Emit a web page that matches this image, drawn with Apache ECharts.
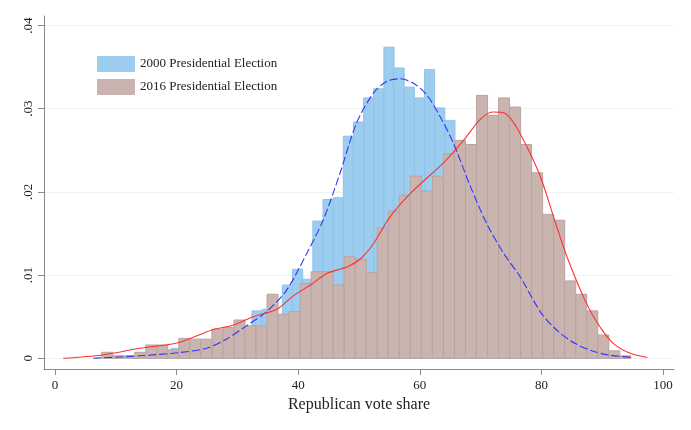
<!DOCTYPE html>
<html>
<head>
<meta charset="utf-8">
<script src="https://cdn.jsdelivr.net/npm/echarts@6/dist/echarts.min.js"></script>
<style>html,body{margin:0;padding:0;background:#fff}#c{width:691px;height:430px}</style>
</head>
<body>
<div id="c"></div>
<script>
// ---- data ----
const seriesNames = ['2000 Presidential Election', '2016 Presidential Election'];

// 2000 histogram (density), 48 bins
const bins2000Start = 12.37;
const bins2000Width = 1.669;
const density2000 = [
  0.0002, 0.0004, 0.0005, 0.0007, 0.0012, 0.0009, 0.0010, 0.0011, 0.0013, 0.0018,
  0.0027, 0.0036, 0.0057, 0.0059, 0.0050, 0.0088, 0.0107, 0.0095, 0.0165, 0.0191,
  0.0193, 0.0267, 0.0284, 0.0313, 0.0324, 0.0374, 0.0349, 0.0326, 0.0313, 0.0347,
  0.0301, 0.0286, 0.0240, 0.0210, 0.0180, 0.0155, 0.0130, 0.0110, 0.0095, 0.0080,
  0.0065, 0.0050, 0.0038, 0.0028, 0.0020, 0.0013, 0.0007, 0.0003
];

// 2016 histogram (density), 48 bins
const bins2016Start = 7.68;
const bins2016Width = 1.813;
const density2016 = [
  0.00072, 0.0003, 0.0003, 0.00072, 0.0016, 0.0016, 0.0010, 0.0024, 0.0023, 0.0023,
  0.0035, 0.0037, 0.0046, 0.0039, 0.0039, 0.0077, 0.0053, 0.0056, 0.0090, 0.0104,
  0.0104, 0.0088, 0.0122, 0.0119, 0.0103, 0.0157, 0.0177, 0.0196, 0.0219, 0.0201,
  0.0219, 0.0246, 0.0262, 0.0257, 0.0316, 0.0292, 0.0313, 0.0302, 0.0257, 0.0223,
  0.0173, 0.0166, 0.0093, 0.0077, 0.0057, 0.0028, 0.0009, 0.0003
];

// kernel density curves
const kde2000X = [6.3, 14, 20.6, 24.9, 28.2, 31.5, 34.8, 38.1, 41.4, 44.1, 46.9, 49.6, 52.4, 54.6, 56.7, 58.9, 61.1, 63.3, 65.5, 68.3, 71.0, 73.8, 76.5, 80.0, 82.8, 85.5, 88.3, 91.0, 94.9];
const kde2000Y = [0, 0.0003, 0.0007, 0.0012, 0.0023, 0.0039, 0.0056, 0.0082, 0.0126, 0.0166, 0.0223, 0.0283, 0.0319, 0.0333, 0.0336, 0.0331, 0.0317, 0.0291, 0.0259, 0.0207, 0.0162, 0.0126, 0.0098, 0.0054, 0.0032, 0.0018, 0.0009, 0.0004, 0.0001];

const kde2016X = [1.37, 7.8, 14.0, 20.4, 25.8, 29.4, 32.6, 36.5, 39.2, 42.2, 44.7, 48.1, 50.3, 52.4, 55.1, 58.7, 63.9, 67.2, 69.9, 72.0, 73.9, 75.8, 78.1, 80.0, 82.0, 84.2, 87.4, 89.6, 91.8, 94.6, 97.4];
const kde2016Y = [0, 0.0004, 0.0012, 0.0019, 0.0034, 0.0040, 0.0050, 0.0059, 0.0075, 0.0089, 0.0102, 0.0110, 0.0120, 0.0138, 0.0170, 0.0200, 0.0235, 0.0262, 0.0287, 0.0296, 0.0295, 0.0279, 0.0247, 0.0215, 0.0170, 0.0122, 0.0066, 0.0038, 0.0018, 0.0006, 0.0001];

const xTickValues = [0, 20, 40, 60, 80, 100];
const yTickValues = [0, 0.01, 0.02, 0.03, 0.04];
const yTickLabels = ['0', '.01', '.02', '.03', '.04'];
const xTitle = 'Republican vote share';

// ---- build ----
function histData(start, width, vals) {
  return vals.map((v, i) => [start + i * width, start + (i + 1) * width, v]);
}
function zip(xs, ys) { return xs.map((x, i) => [x, ys[i]]); }

const blueFill = '#9dcdee', blueStroke = '#8cc3ea';
const brownFill = '#c9b4b0', brownStroke = '#bba39f';

function rectRenderer(fill, stroke) {
  return function (params, api) {
    const p0 = api.coord([api.value(0), api.value(2)]);
    const p1 = api.coord([api.value(1), 0]);
    return {
      type: 'rect',
      shape: { x: p0[0], y: p0[1], width: p1[0] - p0[0], height: p1[1] - p0[1] },
      style: { fill: fill, stroke: stroke, lineWidth: 1 }
    };
  };
}

const font = 'Liberation Serif';
const chart = echarts.init(document.getElementById('c'), null, { renderer: 'canvas' });
chart.setOption({
  animation: false,
  backgroundColor: '#ffffff',
  textStyle: { fontFamily: font },
  grid: { left: 44, right: 17, top: 16, bottom: 61 },
  legend: {
    data: seriesNames,
    orient: 'vertical',
    left: 97, top: 56,
    itemWidth: 38, itemHeight: 16, itemGap: 7,
    icon: 'rect',
    textStyle: { fontFamily: font, fontSize: 13, color: '#222' },
    padding: 0
  },
  xAxis: {
    type: 'value',
    min: -1.8, max: 101.8,
    axisLine: { show: true, onZero: false, lineStyle: { color: '#8a8a8a', width: 1 } },
    axisTick: { show: true, length: 6, customValues: xTickValues, lineStyle: { color: '#8a8a8a' } },
    axisLabel: { customValues: xTickValues, fontFamily: font, fontSize: 13, color: '#222', margin: 10 },
    splitLine: { show: false },
    name: xTitle,
    nameLocation: 'middle',
    nameGap: 27,
    nameTextStyle: { fontFamily: font, fontSize: 16, color: '#222' }
  },
  yAxis: {
    type: 'value',
    min: -0.001288, max: 0.04115,
    axisLine: { show: true, onZero: false, lineStyle: { color: '#8a8a8a', width: 1 } },
    axisTick: { show: true, length: 6, customValues: yTickValues, lineStyle: { color: '#8a8a8a' } },
    axisLabel: {
      customValues: yTickValues, rotate: 90, margin: 9, fontFamily: font, fontSize: 13, color: '#222',
      formatter: function (v) { const i = yTickValues.findIndex(t => Math.abs(t - v) < 1e-9); return i >= 0 ? yTickLabels[i] : ''; }
    },
    splitLine: { show: true, lineStyle: { color: '#eef2f4', width: 1 } }
  },
  series: [
    {
      name: seriesNames[0], type: 'custom',
      renderItem: rectRenderer(blueFill, blueStroke),
      itemStyle: { color: blueFill, borderColor: blueStroke },
      encode: { x: [0, 1], y: 2 },
      data: histData(bins2000Start, bins2000Width, density2000), z: 2
    },
    {
      name: seriesNames[1], type: 'custom',
      renderItem: rectRenderer(brownFill, brownStroke),
      itemStyle: { color: brownFill, borderColor: brownStroke },
      encode: { x: [0, 1], y: 2 },
      data: histData(bins2016Start, bins2016Width, density2016), z: 3
    },
    {
      name: 'kde2000', type: 'line', showSymbol: false, smooth: 0.3,
      data: zip(kde2000X, kde2000Y),
      lineStyle: { color: '#3333ff', width: 1.1, type: [8, 3] }, z: 4
    },
    {
      name: 'kde2016', type: 'line', showSymbol: false, smooth: 0.3,
      data: zip(kde2016X, kde2016Y),
      lineStyle: { color: '#ff3030', width: 1.1 }, z: 5
    }
  ]
});
</script>
</body>
</html>
